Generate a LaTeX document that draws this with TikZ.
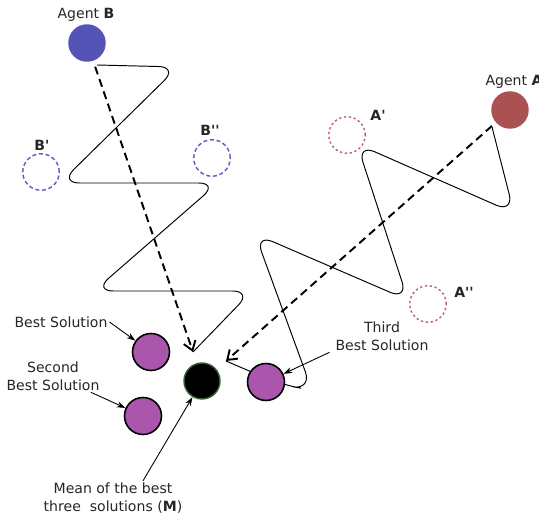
\documentclass[tikz,border=0pt]{standalone}
\usepackage{fontspec}
\setmainfont{DejaVu Sans}
\usetikzlibrary{arrows.meta,positioning}
\definecolor{agentBlue}{RGB}{84,84,182}
\definecolor{agentRed}{RGB}{170,82,82}
\definecolor{ghostBlue}{RGB}{92,92,196}
\definecolor{ghostRed}{RGB}{196,96,96}
\definecolor{solPurple}{RGB}{170,86,172}
\definecolor{meanGreen}{RGB}{52,96,52}
\definecolor{txtGray}{RGB}{38,38,38}

\begin{document}
\begin{tikzpicture}[x=0.02cm, y=-0.02cm,
    every node/.style={font=\fontsize{8}{10}\selectfont, text=txtGray, inner sep=1pt},
    agent/.style={circle, minimum size=0.75cm, inner sep=0pt},
    ghost/.style={circle, draw, minimum size=0.73cm, inner sep=0pt, line width=0.8pt},
    sol/.style={circle, draw=black, fill=solPurple, line width=0.9pt, minimum size=0.74cm, inner sep=0pt},
    walk/.style={line width=0.55pt, rounded corners=11pt},
    jump/.style={line width=1.1pt, dash pattern=on 4.6pt off 2.8pt, -{Straight Barb[length=5pt,width=7pt]}},
    note/.style={line width=0.5pt, -{Stealth[length=5pt,width=3.4pt]}}]
    \useasboundingbox (0,0) rectangle (539,517);
    % ends of the two moves
    \coordinate (tipB) at (193,352);
    \coordinate (tipA) at (226,361);
    % zig-zag walks of the agents
    \draw[walk] (97,65) -- (178,67) -- (60,183) -- (218,183) -- (94,291) -- (252,291) -- (tipB);
    \draw[walk] (492,127) -- (514,213) -- (357,144) -- (408,300) -- (255,234) -- (312,390) -- (282,385) -- (tipA);
    % agents and their trial positions
    \node[agent, fill=agentBlue] (agentB) at (87,43) {};
    \node[agent, fill=agentRed] (agentA) at (510,110) {};
    \node at (86,15) {Agent \textbf{B}};
    \node at (514,82) {Agent \textbf{A}};
    \foreach \p/\n in {(41,172)/bOne, (212,158)/bTwo}{
      \node[ghost, draw=ghostBlue, dash pattern=on 2.3pt off 1.5pt] (\n) at \p {};}
    \foreach \p/\n in {(347,135)/aOne, (428,304)/aTwo}{
      \node[ghost, draw=ghostRed, dash pattern=on 1.3pt off 1.5pt] (\n) at \p {};}
    \node at (42,145) {\textbf{B\textquotesingle}};
    \node at (210,130) {\textbf{B\textquotesingle\textquotesingle}};
    \node at (378,115) {\textbf{A\textquotesingle}};
    \node at (464,292) {\textbf{A\textquotesingle\textquotesingle}};
    % the three best solutions and their mean
    \node[sol] (best) at (151,352) {};
    \node[sol] (second) at (143,416) {};
    \node[sol] (third) at (266,382) {};
    \node[circle, fill=black, draw=meanGreen, line width=0.8pt, minimum size=0.72cm, inner sep=0pt] (mean) at (202,381) {};
    \draw[jump, shorten <=0.12cm] (agentB) -- (tipB);
    \draw[jump, shorten <=0.1cm] (agentA) -- (tipA);
    % labels
    \node (bestTxt) at (61,322) {Best Solution};
    \node[align=center] (secondTxt) at (53,376) {Second\\Best Solution};
    \node[align=center] (thirdTxt) at (382,336) {Third\\Best Solution};
    \node[align=center] (meanTxt) at (113,498) {Mean of the best\\three~~solutions (\textbf{M})};
    \draw[note] (bestTxt.east) -- (best);
    \draw[note] ([xshift=0.76cm]secondTxt.south) -- (second);
    \draw[note] ([xshift=-0.08cm]thirdTxt.south west) -- (third);
    \draw[note] ([xshift=0.6cm]meanTxt.north) -- (mean);
\end{tikzpicture}
\end{document}
